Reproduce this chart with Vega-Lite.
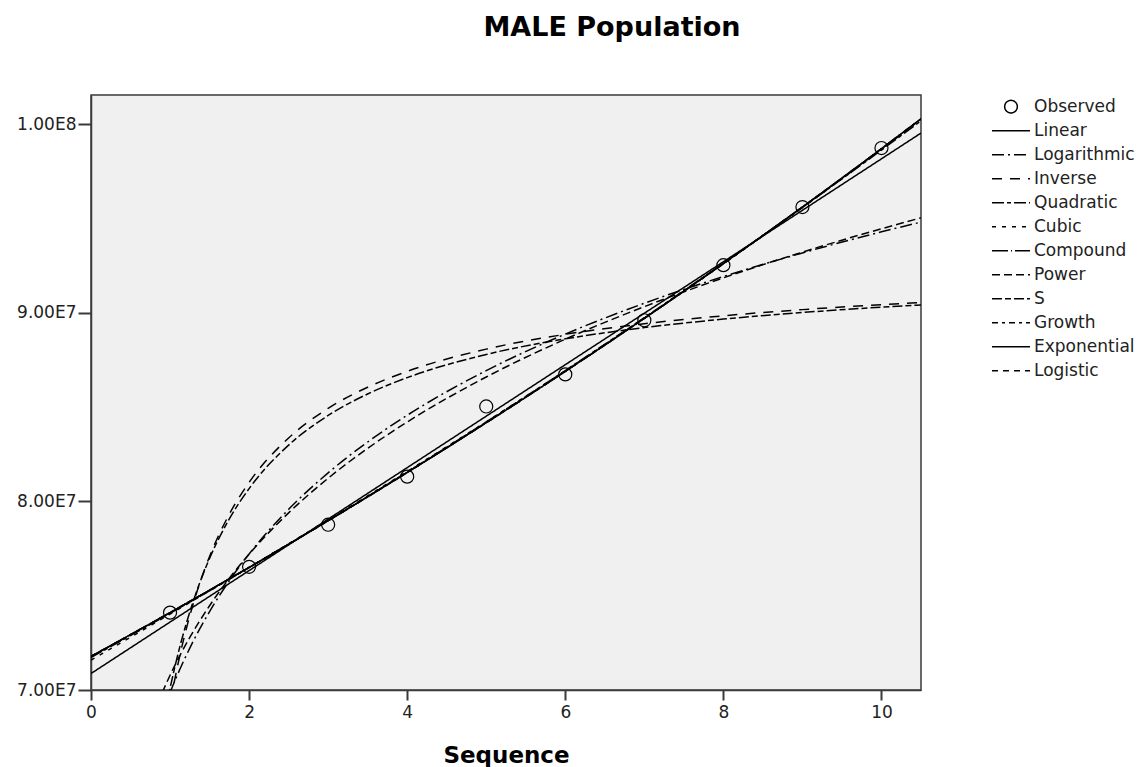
{
  "$schema": "https://vega.github.io/schema/vega-lite/v6.json",
  "width": 830,
  "height": 595,
  "autosize": {"type": "none"},
  "padding": {"left": 91, "top": 95, "right": 226, "bottom": 77},
  "background": "white",
  "title": {"text": "MALE Population", "font": "DejaVu Sans", "fontSize": 27, "fontWeight": "bold", "color": "#000000", "anchor": "middle", "frame": "group", "dx": 106, "offset": 32, "baseline": "alphabetic"},
  "config": {
    "view": {"fill": "#f0f0f0", "stroke": "#3a3a3a", "strokeWidth": 1.5},
    "axis": {"grid": false, "domainColor": "#3a3a3a", "domainWidth": 1.5, "tickColor": "#3a3a3a", "tickWidth": 2, "labelFont": "DejaVu Sans", "labelFontSize": 17, "labelColor": "#222222", "titleFont": "DejaVu Sans", "titleFontWeight": "bold", "titleColor": "#000000"}
  },
  "datasets": {
    "obs": [
      {"x": 1, "y": 74100000}, {"x": 2, "y": 76530000}, {"x": 3, "y": 78760000}, {"x": 4, "y": 81310000}, {"x": 5, "y": 85030000},
      {"x": 6, "y": 86730000}, {"x": 7, "y": 89600000}, {"x": 8, "y": 92520000}, {"x": 9, "y": 95600000}, {"x": 10, "y": 98730000}
    ],
    "fits": [
      {"m": "Linear", "x": 0, "y": 70873000}, {"m": "Linear", "x": 10.5, "y": 99522000},
      {"m": "Logarithmic", "x": 0.9, "y": 68737000}, {"m": "Logarithmic", "x": 1, "y": 69855000}, {"m": "Logarithmic", "x": 1.25, "y": 72223000}, {"m": "Logarithmic", "x": 1.5, "y": 74157000}, {"m": "Logarithmic", "x": 1.75, "y": 75793000}, {"m": "Logarithmic", "x": 2, "y": 77209000}, {"m": "Logarithmic", "x": 2.5, "y": 79577000}, {"m": "Logarithmic", "x": 3, "y": 81511000}, {"m": "Logarithmic", "x": 3.5, "y": 83147000}, {"m": "Logarithmic", "x": 4, "y": 84563000}, {"m": "Logarithmic", "x": 5, "y": 86931000}, {"m": "Logarithmic", "x": 6, "y": 88866000}, {"m": "Logarithmic", "x": 7, "y": 90501000}, {"m": "Logarithmic", "x": 8, "y": 91918000}, {"m": "Logarithmic", "x": 9, "y": 93168000}, {"m": "Logarithmic", "x": 10, "y": 94286000}, {"m": "Logarithmic", "x": 10.5, "y": 94803000},
      {"m": "Inverse", "x": 0.9, "y": 66613000}, {"m": "Inverse", "x": 1, "y": 69230000}, {"m": "Inverse", "x": 1.1, "y": 71371000}, {"m": "Inverse", "x": 1.2, "y": 73155000}, {"m": "Inverse", "x": 1.3, "y": 74665000}, {"m": "Inverse", "x": 1.4, "y": 75959000}, {"m": "Inverse", "x": 1.5, "y": 77080000}, {"m": "Inverse", "x": 1.75, "y": 79323000}, {"m": "Inverse", "x": 2, "y": 81005000}, {"m": "Inverse", "x": 2.5, "y": 83360000}, {"m": "Inverse", "x": 3, "y": 84930000}, {"m": "Inverse", "x": 3.5, "y": 86051000}, {"m": "Inverse", "x": 4, "y": 86892000}, {"m": "Inverse", "x": 5, "y": 88070000}, {"m": "Inverse", "x": 6, "y": 88855000}, {"m": "Inverse", "x": 7, "y": 89416000}, {"m": "Inverse", "x": 8, "y": 89836000}, {"m": "Inverse", "x": 9, "y": 90163000}, {"m": "Inverse", "x": 10, "y": 90425000}, {"m": "Inverse", "x": 10.5, "y": 90537000},
      {"m": "Quadratic", "x": 0, "y": 71723000}, {"m": "Quadratic", "x": 1, "y": 74065000}, {"m": "Quadratic", "x": 2, "y": 76485000}, {"m": "Quadratic", "x": 3, "y": 78981000}, {"m": "Quadratic", "x": 4, "y": 81555000}, {"m": "Quadratic", "x": 5, "y": 84207000}, {"m": "Quadratic", "x": 6, "y": 86935000}, {"m": "Quadratic", "x": 7, "y": 89741000}, {"m": "Quadratic", "x": 8, "y": 92624000}, {"m": "Quadratic", "x": 9, "y": 95584000}, {"m": "Quadratic", "x": 10, "y": 98622000}, {"m": "Quadratic", "x": 10.5, "y": 100170000},
      {"m": "Cubic", "x": 0, "y": 71580000}, {"m": "Cubic", "x": 1, "y": 74023000}, {"m": "Cubic", "x": 2, "y": 76499000}, {"m": "Cubic", "x": 3, "y": 79016000}, {"m": "Cubic", "x": 4, "y": 81586000}, {"m": "Cubic", "x": 5, "y": 84219000}, {"m": "Cubic", "x": 6, "y": 86923000}, {"m": "Cubic", "x": 7, "y": 89710000}, {"m": "Cubic", "x": 8, "y": 92589000}, {"m": "Cubic", "x": 9, "y": 95570000}, {"m": "Cubic", "x": 10, "y": 98664000}, {"m": "Cubic", "x": 10.5, "y": 100256000},
      {"m": "Compound", "x": 0, "y": 71780000}, {"m": "Compound", "x": 1, "y": 74102000}, {"m": "Compound", "x": 2, "y": 76500000}, {"m": "Compound", "x": 3, "y": 78975000}, {"m": "Compound", "x": 4, "y": 81530000}, {"m": "Compound", "x": 5, "y": 84168000}, {"m": "Compound", "x": 6, "y": 86891000}, {"m": "Compound", "x": 7, "y": 89702000}, {"m": "Compound", "x": 8, "y": 92605000}, {"m": "Compound", "x": 9, "y": 95601000}, {"m": "Compound", "x": 10, "y": 98694000}, {"m": "Compound", "x": 10.5, "y": 100277000},
      {"m": "Power", "x": 0.9, "y": 69852000}, {"m": "Power", "x": 1, "y": 70780000}, {"m": "Power", "x": 1.25, "y": 72787000}, {"m": "Power", "x": 1.5, "y": 74468000}, {"m": "Power", "x": 1.75, "y": 75921000}, {"m": "Power", "x": 2, "y": 77202000}, {"m": "Power", "x": 2.5, "y": 79390000}, {"m": "Power", "x": 3, "y": 81225000}, {"m": "Power", "x": 3.5, "y": 82809000}, {"m": "Power", "x": 4, "y": 84206000}, {"m": "Power", "x": 5, "y": 86593000}, {"m": "Power", "x": 6, "y": 88594000}, {"m": "Power", "x": 7, "y": 90322000}, {"m": "Power", "x": 8, "y": 91846000}, {"m": "Power", "x": 9, "y": 93211000}, {"m": "Power", "x": 10, "y": 94450000}, {"m": "Power", "x": 10.5, "y": 95029000},
      {"m": "S", "x": 0.9, "y": 67924000}, {"m": "S", "x": 1, "y": 70082000}, {"m": "S", "x": 1.1, "y": 71900000}, {"m": "S", "x": 1.2, "y": 73449000}, {"m": "S", "x": 1.3, "y": 74787000}, {"m": "S", "x": 1.4, "y": 75952000}, {"m": "S", "x": 1.5, "y": 76978000}, {"m": "S", "x": 1.75, "y": 79070000}, {"m": "S", "x": 2, "y": 80676000}, {"m": "S", "x": 2.5, "y": 82980000}, {"m": "S", "x": 3, "y": 84552000}, {"m": "S", "x": 3.5, "y": 85693000}, {"m": "S", "x": 4, "y": 86559000}, {"m": "S", "x": 5, "y": 87786000}, {"m": "S", "x": 6, "y": 88614000}, {"m": "S", "x": 7, "y": 89210000}, {"m": "S", "x": 8, "y": 89660000}, {"m": "S", "x": 9, "y": 90011000}, {"m": "S", "x": 10, "y": 90293000}, {"m": "S", "x": 10.5, "y": 90414000},
      {"m": "Growth", "x": 0, "y": 71780000}, {"m": "Growth", "x": 1, "y": 74102000}, {"m": "Growth", "x": 2, "y": 76500000}, {"m": "Growth", "x": 3, "y": 78975000}, {"m": "Growth", "x": 4, "y": 81530000}, {"m": "Growth", "x": 5, "y": 84168000}, {"m": "Growth", "x": 6, "y": 86891000}, {"m": "Growth", "x": 7, "y": 89702000}, {"m": "Growth", "x": 8, "y": 92605000}, {"m": "Growth", "x": 9, "y": 95601000}, {"m": "Growth", "x": 10, "y": 98694000}, {"m": "Growth", "x": 10.5, "y": 100277000},
      {"m": "Exponential", "x": 0, "y": 71780000}, {"m": "Exponential", "x": 1, "y": 74102000}, {"m": "Exponential", "x": 2, "y": 76500000}, {"m": "Exponential", "x": 3, "y": 78975000}, {"m": "Exponential", "x": 4, "y": 81530000}, {"m": "Exponential", "x": 5, "y": 84168000}, {"m": "Exponential", "x": 6, "y": 86891000}, {"m": "Exponential", "x": 7, "y": 89702000}, {"m": "Exponential", "x": 8, "y": 92605000}, {"m": "Exponential", "x": 9, "y": 95601000}, {"m": "Exponential", "x": 10, "y": 98694000}, {"m": "Exponential", "x": 10.5, "y": 100277000},
      {"m": "Logistic", "x": 0, "y": 71780000}, {"m": "Logistic", "x": 1, "y": 74102000}, {"m": "Logistic", "x": 2, "y": 76500000}, {"m": "Logistic", "x": 3, "y": 78975000}, {"m": "Logistic", "x": 4, "y": 81530000}, {"m": "Logistic", "x": 5, "y": 84168000}, {"m": "Logistic", "x": 6, "y": 86891000}, {"m": "Logistic", "x": 7, "y": 89702000}, {"m": "Logistic", "x": 8, "y": 92605000}, {"m": "Logistic", "x": 9, "y": 95601000}, {"m": "Logistic", "x": 10, "y": 98694000}, {"m": "Logistic", "x": 10.5, "y": 100277000}
    ]
  },
  "layer": [
    {
      "data": {"name": "fits"},
      "mark": {"type": "line", "clip": true, "color": "#000000", "strokeWidth": 1.5, "interpolate": "monotone"},
      "encoding": {
        "x": {"field": "x", "type": "quantitative", "scale": {"domain": [0, 10.5], "nice": false, "zero": false}, "axis": {"title": "Sequence", "values": [0, 2, 4, 6, 8, 10], "format": "d", "labelFlush": false, "tickSize": 10, "labelPadding": 4, "titleFontSize": 23, "titlePadding": 24}},
        "y": {"field": "y", "type": "quantitative", "scale": {"domain": [70000000, 101540000], "nice": false, "zero": false}, "axis": {"title": null, "values": [70000000, 80000000, 90000000, 100000000], "labelExpr": "replace(format(datum.value, '.2e'), 'e+', 'E')", "labelFlush": false, "tickSize": 13, "labelPadding": 2}},
        "strokeDash": {
          "field": "m", "type": "nominal",
          "scale": {
            "domain": ["Observed", "Linear", "Logarithmic", "Inverse", "Quadratic", "Cubic", "Compound", "Power", "S", "Growth", "Exponential", "Logistic"],
            "range": [[1, 0], [1, 0], [12, 4, 2, 4], [10, 8], [12, 3, 4, 3], [4, 6], [16, 3, 1, 3], [8, 4], [10, 3, 6, 3], [6, 4, 3, 4], [1, 0], [6, 5]]
          },
          "legend": {
            "title": null, "orient": "right", "offset": 70, "padding": 0,
            "symbolType": "stroke", "symbolSize": 1444, "symbolStrokeWidth": 1.5, "symbolStrokeColor": "#000000",
            "labelFont": "DejaVu Sans", "labelFontSize": 17, "labelColor": "#222222", "labelOffset": 3, "rowPadding": 0, "clipHeight": 23.3,
            "encode": {"symbols": {"update": {
              "shape": {"signal": "datum.value === 'Observed' ? 'circle' : 'stroke'"},
              "size": {"signal": "datum.value === 'Observed' ? 160 : 1444"},
              "fill": {"value": "transparent"},
              "stroke": {"value": "#000000"}
            }}}
          }
        }
      }
    },
    {
      "data": {"name": "obs"},
      "mark": {"type": "point", "shape": "circle", "filled": false, "color": "#000000", "size": 170, "strokeWidth": 1.2, "opacity": 1},
      "encoding": {
        "x": {"field": "x", "type": "quantitative"},
        "y": {"field": "y", "type": "quantitative"}
      }
    }
  ]
}
